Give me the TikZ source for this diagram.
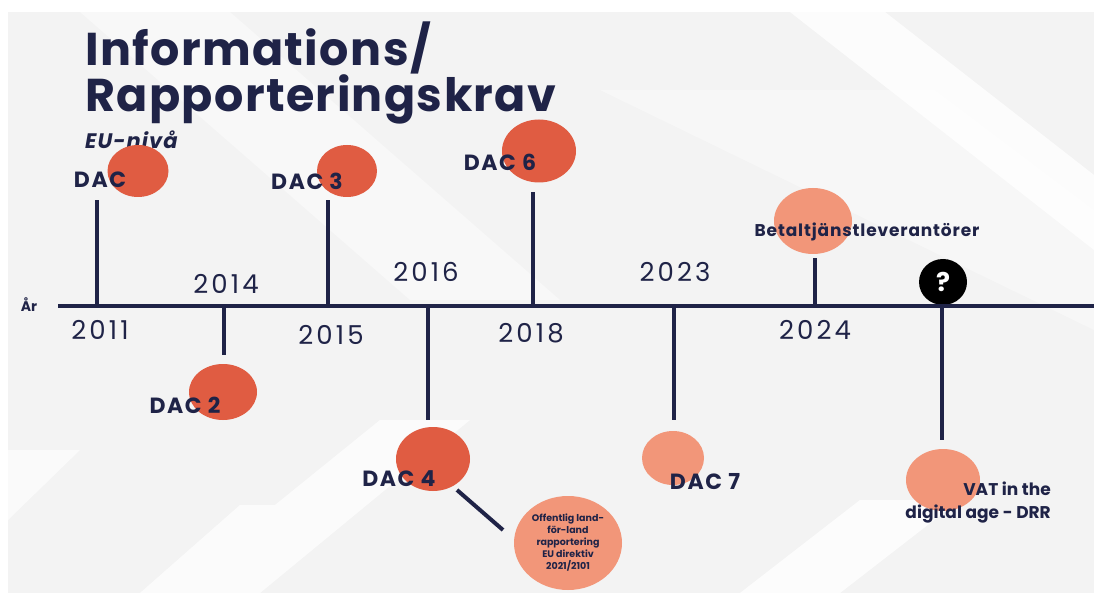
\documentclass[tikz,border=0pt]{standalone}
\usepackage{fontspec}
\setmainfont{Poppins}
\usetikzlibrary{shapes.geometric}
\definecolor{navy}{HTML}{1F2347}
\definecolor{dacred}{HTML}{E05C42}
\definecolor{salmon}{HTML}{F29679}
\definecolor{slide}{HTML}{F3F3F3}
\begin{document}
\begin{tikzpicture}[x=1pt,y=-1pt,
  blob/.style args={#1/#2}{ellipse,inner sep=0pt,minimum width=#1,minimum height=#2},
  red/.style={fill=dacred},
  pale/.style={fill=salmon},
  tick/.style={draw=navy,line width=4pt},
  dac/.style={text=navy,font=\bfseries\fontsize{22}{22}\selectfont\addfontfeature{LetterSpace=7},inner sep=0pt},
  year/.style={text=navy,font=\fontsize{26}{26}\selectfont\addfontfeature{LetterSpace=12},inner sep=0pt},
  small/.style={text=navy,font=\bfseries\fontsize{9.5}{12}\selectfont,align=center,inner sep=0pt}]
\useasboundingbox (0,0) rectangle (1094,593);
% background
\fill[white] (0,0) rectangle (1094,593);
\fill[slide] (8,12) rectangle (1094,593);
\fill[white,opacity=0.45] (80,12) -- (230,12) -- (560,300) -- (410,300) -- cycle;
\fill[white,opacity=0.8] (790,12) -- (885,12) -- (1094,175) -- (1094,250) -- cycle;
\fill[white,opacity=0.35] (600,90) -- (935,90) -- (1094,210) -- (1094,330) -- cycle;
\fill[white,opacity=0.7] (140,593) -- (240,505) -- (275,505) -- (380,420) -- (470,420) -- (260,593) -- cycle;
\fill[white,opacity=0.8] (740,593) -- (860,500) -- (960,500) -- (840,593) -- cycle;
\fill[white,opacity=0.6] (8,450) -- (80,450) -- (8,520) -- cycle;
% title
\node[anchor=base west,inner sep=0pt,text=navy,font=\bfseries\fontsize{46}{46}\selectfont\addfontfeature{LetterSpace=3}] (t1) at (85,66) {Informations/};
\node[anchor=base west,inner sep=0pt,text=navy,font=\bfseries\fontsize{46}{46}\selectfont\addfontfeature{LetterSpace=3}] (t2) at (85,112) {Rapporteringskrav};
\node[anchor=base west,inner sep=0pt,text=navy,font=\bfseries\itshape\fontsize{21}{21}\selectfont\addfontfeature{LetterSpace=5}] (t3) at (85,149) {EU-nivå};
% circles
\node[blob=61/52,red] (c1) at (138,171) {};
\node[blob=68/56,red] (c2) at (223,392) {};
\node[blob=60/52,red] (c3) at (347,171) {};
\node[blob=74/64,red] (c4) at (433,459) {};
\node[blob=74/63,red] (c6) at (539,151) {};
\node[blob=62/54,pale] (c7) at (673,458) {};
\node[blob=78/66,pale] (cb) at (813,221) {};
\node[blob=74/62,pale] (cv) at (943,480) {};
\node[blob=108/94,pale] (co) at (568,543) {};
\node[blob=48/46,fill=black,text=white,font=\bfseries\fontsize{26}{26}\selectfont] (cq) at (943,282) {?};
% axis
\coordinate (a0) at (58,306);
\coordinate (a1) at (1094,306);
\draw[tick] (a0) -- (a1);
\node[text=navy,font=\bfseries\fontsize{14}{14}\selectfont,inner sep=0pt] (ar) at (29,305) {År};
% ticks
\coordinate (p1) at (97,306);  \coordinate (e1) at (97,200);
\coordinate (p2) at (224,306); \coordinate (e2) at (224,355);
\coordinate (p3) at (328,306); \coordinate (e3) at (328,200);
\coordinate (p4) at (428,306); \coordinate (e4) at (428,420);
\coordinate (p6) at (533,306); \coordinate (e6) at (533,192);
\coordinate (p7) at (674,306); \coordinate (e7) at (674,420);
\coordinate (pb) at (815,306); \coordinate (eb) at (815,258);
\coordinate (pq) at (942,306); \coordinate (eq) at (942,440);
\foreach \i in {1,2,3,4,6,7,b,q} { \draw[tick] (p\i) -- (e\i); }
\coordinate (l0) at (457,490); \coordinate (l1) at (503,530);
\draw[tick] (l0) -- (l1);
% years
\node[year] (y11) at (100,330) {2011};
\node[year] (y14) at (226,284) {2014};
\node[year] (y15) at (331,335) {2015};
\node[year] (y16) at (426,272) {2016};
\node[year] (y18) at (531,333) {2018};
\node[year] (y23) at (675,272) {2023};
\node[year] (y24) at (815,330) {2024};
% labels
\node[dac] (d1) at (100,180) {DAC};
\node[dac] (d2) at (185,405) {DAC 2};
\node[dac] (d3) at (307,181) {DAC 3};
\node[dac] (d4) at (399,479) {DAC 4};
\node[dac] (d6) at (500,162) {DAC 6};
\node[dac] (d7) at (705,482) {DAC 7};
\node[text=navy,font=\bfseries\fontsize{17}{17}\selectfont\addfontfeature{LetterSpace=5},inner sep=0pt] (db) at (867,232) {Betaltjänstleverantörer};
\node[text=navy,font=\bfseries\fontsize{17}{23}\selectfont,align=right,inner sep=0pt,anchor=east] (dv) at (1051,503) {VAT in the\\digital age - DRR};
\node[small] (dof) at (568,543) {Offentlig land-\\för-land\\rapportering\\EU direktiv\\2021/2101};
\end{tikzpicture}
\end{document}
